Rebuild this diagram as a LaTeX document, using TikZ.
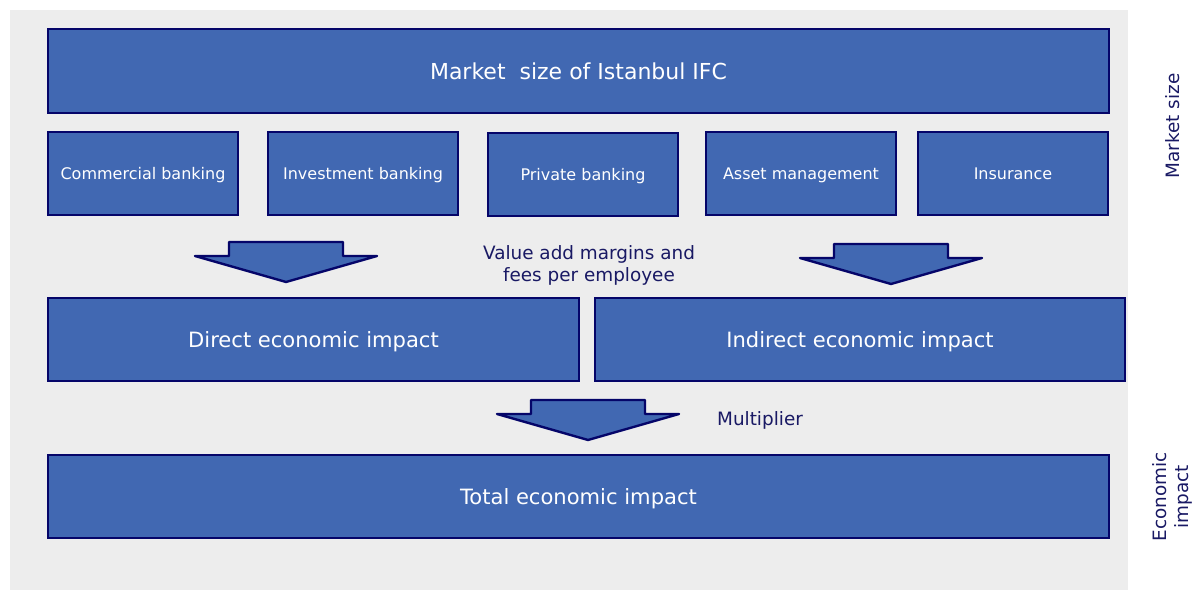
\documentclass[tikz,border=0pt]{standalone}
\usepackage{fontspec}
\setmainfont{DejaVu Sans}
\usetikzlibrary{positioning}

\definecolor{boxblue}{RGB}{65,104,178}
\definecolor{boxline}{RGB}{5,5,105}
\definecolor{labelnavy}{RGB}{25,25,100}
\definecolor{panelgray}{RGB}{237,237,237}

\begin{document}
\begin{tikzpicture}[
    x=0.75pt, y=-0.75pt,
    block/.style={draw=boxline, fill=boxblue, line width=1.8pt, text=white, align=center, inner sep=0pt, text depth=0pt},
    bigbox/.style={block, minimum height=62.25pt, font=\fontsize{15.8}{19}\selectfont},
    segment/.style={block, minimum width=142.5pt, minimum height=62.25pt, font=\fontsize{12}{14}\selectfont},
    note/.style={text=labelnavy, align=center, font=\fontsize{13.8}{16.5}\selectfont},
    sidenote/.style={note, rotate=90},
    blockarrow/.pic={\draw[draw=boxline, fill=boxblue, line width=1.8pt, line join=round]
        (-57,-40) -- (57,-40) -- (57,-26) -- (91,-26) -- (0,0) -- (-91,-26) -- (-57,-26) -- cycle;}
  ]
    % canvas and grey panel
    \useasboundingbox (0,0) rectangle (1193,591);
    \fill[panelgray] (10,10) rectangle (1128,590);

    \node[bigbox, minimum width=795.75pt, minimum height=63pt, font=\fontsize{16.5}{19}\selectfont] (market) at (578.5,71) {Market\ \ size of Istanbul IFC};

    \node[segment] (commercial) at (143,173.5) {Commercial banking};
    \node[segment] (investment) at (363,173.5) {Investment banking};
    \node[segment] (private) at (583,174.5) {Private banking};
    \node[segment] (asset) at (801,173.5) {Asset management};
    \node[segment] (insurance) at (1013,173.5) {Insurance};

    \pic at (286,282) {blockarrow};
    \pic at (891,284) {blockarrow};
    \node[note] (margins) at (589,265) {Value add margins and\\fees per employee};

    \node[bigbox, minimum width=398.25pt] (direct) at (313.5,339.5) {Direct economic impact};
    \node[bigbox, minimum width=397.5pt] (indirect) at (860,339.5) {Indirect economic impact};

    \pic at (588,440) {blockarrow};
    \node[note] (multiplier) at (760,420) {Multiplier};

    \node[bigbox, minimum width=795.75pt] (total) at (578.5,496.5) {Total economic impact};

    % side labels
    \node[sidenote] (sizelabel) at (1173,126) {Market size};
    \node[sidenote] (impactlabel) at (1172,497) {Economic\\impact};
\end{tikzpicture}
\end{document}
